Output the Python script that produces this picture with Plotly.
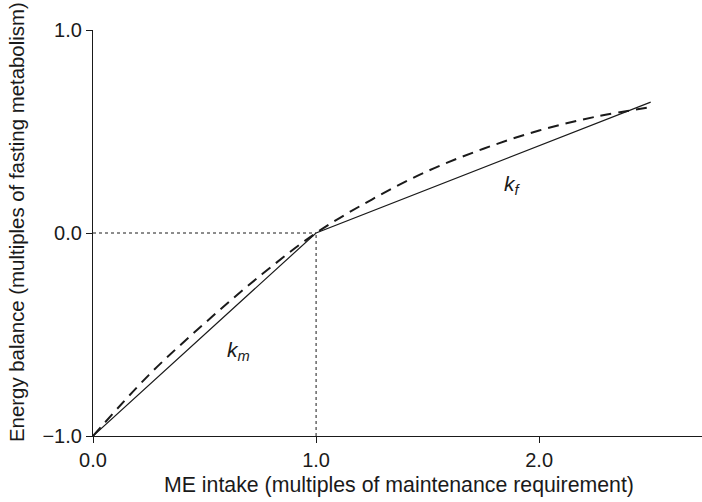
import plotly.graph_objects as go

# Data
solid_x = [0.0, 1.0, 2.5]
solid_y = [-1.0, 0.0, 0.645]

dashed_x = [0.0, 0.25, 0.5, 0.75, 1.0, 1.25, 1.5, 1.75, 2.0, 2.25, 2.5]
dashed_y = [-1.0, -0.70, -0.445, -0.21, 0.0, 0.165, 0.305, 0.415, 0.505, 0.572, 0.62]

guide_h_x = [0.0, 1.0]
guide_h_y = [0.0, 0.0]
guide_v_x = [1.0, 1.0]
guide_v_y = [-1.0, 0.0]

x_ticks = [0.0, 1.0, 2.0]
x_ticklabels = ["0.0", "1.0", "2.0"]
y_ticks = [-1.0, 0.0, 1.0]
y_ticklabels = ["\u22121.0", "0.0", "1.0"]

x_title = "ME intake (multiples of maintenance requirement)"
y_title = "Energy balance (multiples of fasting metabolism)"

ink = "#1a1a1a"
font = "Liberation Sans, Arial, Helvetica, sans-serif"

fig = go.Figure()
fig.add_trace(go.Scatter(x=guide_h_x, y=guide_h_y, mode="lines",
                         line=dict(color=ink, width=1, dash="dot"), showlegend=False))
fig.add_trace(go.Scatter(x=guide_v_x, y=guide_v_y, mode="lines",
                         line=dict(color=ink, width=1, dash="dot"), showlegend=False))
fig.add_trace(go.Scatter(x=solid_x, y=solid_y, mode="lines",
                         line=dict(color=ink, width=1.2), showlegend=False))
fig.add_trace(go.Scatter(x=dashed_x, y=dashed_y, mode="lines", line_shape="spline",
                         line=dict(color=ink, width=2, dash="11px,7px"), showlegend=False))

fig.add_annotation(x=0.65, y=-0.58, text="<i>k</i><sub><i>m</i></sub>", showarrow=False,
                   font=dict(size=21, color=ink, family=font))
fig.add_annotation(x=1.88, y=0.236, text="<i>k</i><sub><i>f</i></sub>", showarrow=False,
                   font=dict(size=21, color=ink, family=font))

# axis titles placed as annotations for exact positioning
fig.add_annotation(xref="paper", yref="paper", x=0.502, y=-0.1207, text=x_title,
                   showarrow=False, xanchor="center", yanchor="middle",
                   font=dict(size=21.3, color=ink, family=font))
fig.add_annotation(xref="paper", yref="paper", x=-0.1248, y=0.527, text=y_title,
                   showarrow=False, xanchor="center", yanchor="middle", textangle=-90,
                   font=dict(size=20.4, color=ink, family=font))

fig.update_layout(
    width=702, height=502,
    margin=dict(l=93, r=0, t=30, b=66),
    paper_bgcolor="white", plot_bgcolor="white",
    font=dict(family=font, size=20, color=ink),
    xaxis=dict(range=[0, 2.73], tickvals=x_ticks, ticktext=x_ticklabels,
               showline=True, linecolor=ink, linewidth=1.2, ticks="outside",
               ticklen=6, tickcolor=ink, showgrid=False, zeroline=False,
               automargin=False, tickfont=dict(size=20)),
    yaxis=dict(range=[-1, 1], tickvals=y_ticks, ticktext=y_ticklabels,
               showline=True, linecolor=ink, linewidth=1.2, ticks="outside",
               ticklen=6, tickcolor=ink, showgrid=False, zeroline=False,
               automargin=False, tickfont=dict(size=20)),
)

fig.write_html("out.html", config={"displayModeBar": False},
               post_script="document.body.style.margin='0';document.body.style.overflow='hidden';")
